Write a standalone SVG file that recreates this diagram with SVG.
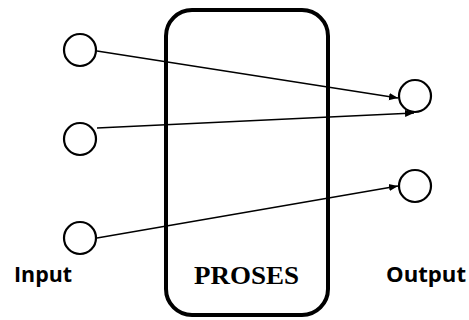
<svg xmlns="http://www.w3.org/2000/svg" width="469" height="320" viewBox="0 0 469 320">
<defs>
<marker id="arr" viewBox="0 0 10 10" refX="10" refY="5" markerWidth="9" markerHeight="9" markerUnits="userSpaceOnUse" orient="auto">
<path d="M0,1 L10,5 L0,9 Z" fill="#000"/>
</marker>
<style>
.node{fill:#fff;stroke:#000;stroke-width:2.2}
.conn{stroke:#000;stroke-width:1.3;fill:none;marker-end:url(#arr)}
.lbl{font-family:"Open Sans","Liberation Sans",sans-serif;font-weight:bold;font-size:21px;fill:#000}
</style>
</defs>
<g id="proses">
<rect x="166" y="10" width="162" height="305" rx="26" ry="26" fill="none" stroke="#000" stroke-width="4"/>
<text x="194" y="284" font-family="'Liberation Serif',serif" font-weight="bold" font-size="25" textLength="105" lengthAdjust="spacingAndGlyphs">PROSES</text>
</g>
<g id="connectors">
<line class="conn" x1="97" y1="51" x2="398" y2="98"/>
<line class="conn" x1="97" y1="128" x2="414" y2="113"/>
<line class="conn" x1="97" y1="238" x2="398" y2="186"/>
</g>
<g id="in1"><circle class="node" cx="80" cy="50" r="16"/></g>
<g id="in2"><circle class="node" cx="80" cy="139" r="16"/></g>
<g id="in3"><circle class="node" cx="80" cy="238" r="16"/></g>
<g id="out1"><circle class="node" cx="415" cy="96" r="16"/></g>
<g id="out2"><circle class="node" cx="415" cy="186" r="16"/></g>
<g id="labels">
<text class="lbl" x="14" y="282" textLength="58" lengthAdjust="spacingAndGlyphs">Input</text>
<text class="lbl" x="386" y="282" textLength="80" lengthAdjust="spacingAndGlyphs">Output</text>
</g>
</svg>
